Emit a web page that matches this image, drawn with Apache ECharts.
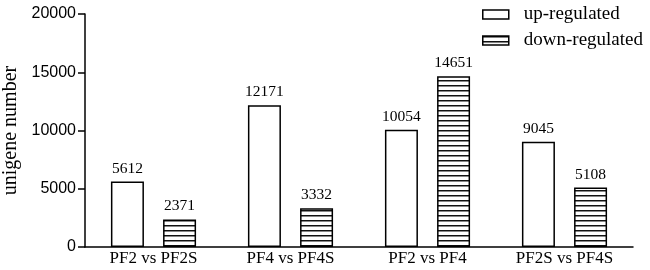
<!DOCTYPE html>
<html>
<head>
<meta charset="utf-8">
<script src="https://cdn.jsdelivr.net/npm/echarts@6/dist/echarts.min.js"></script>
<style>
  html, body { margin: 0; padding: 0; background: #fff; }
  #chart { width: 650px; height: 270px; }
</style>
</head>
<body>
<div id="chart"></div>
<script>
// data
const categories = ['PF2 vs PF2S', 'PF4 vs PF4S', 'PF2 vs PF4', 'PF2S vs PF4S'];
const upRegulated = [5612, 12171, 10054, 9045];
const downRegulated = [2371, 3332, 14651, 5108];

// horizontal stripes for the down-regulated bars
function stripes() {
    const c = document.createElement('canvas');
    c.width = 5;
    c.height = 5;
    const ctx = c.getContext('2d');
    ctx.fillStyle = '#fff';
    ctx.fillRect(0, 0, 5, 5);
    ctx.fillStyle = '#111';
    ctx.fillRect(0, 0, 5, 1);
    ctx.fillStyle = '#888';
    ctx.fillRect(0, 1, 5, 1);
    return c;
}
const stripeFill = {image: stripes(), repeat: 'repeat'};

const serif = '"Liberation Serif", "Times New Roman", serif';
const sans = '"Liberation Sans", Arial, sans-serif';

let chart = echarts.init(document.getElementById('chart'));
chart.setOption({
    animation: false,
    grid: {left: 85, right: 17, top: 14, bottom: 23, outerBoundsMode: 'none'},
    legend: {
        right: 2,
        top: 0,
        orient: 'vertical',
        icon: 'rect',
        itemWidth: 26,
        itemHeight: 9,
        itemGap: 7,
        textStyle: {fontFamily: serif, fontSize: 19, color: '#000', padding: [0, 0, 0, 10]},
        data: [
            {name: 'up-regulated', itemStyle: {color: '#fff', borderColor: '#000', borderWidth: 1.5}},
            {name: 'down-regulated', itemStyle: {color: stripeFill, borderColor: '#000', borderWidth: 1.5}}
        ]
    },
    xAxis: {
        type: 'category',
        data: categories,
        axisLine: {lineStyle: {color: '#000', width: 1.5}},
        axisTick: {alignWithLabel: true, length: 5, lineStyle: {color: '#000', width: 1.5}},
        axisLabel: {fontFamily: serif, fontSize: 17, color: '#000', margin: 3}
    },
    yAxis: {
        type: 'value',
        min: 0,
        max: 20000,
        interval: 5000,
        name: 'unigene number',
        nameLocation: 'middle',
        nameGap: 62,
        nameTextStyle: {fontFamily: serif, fontSize: 20, color: '#000'},
        splitLine: {show: false},
        axisLine: {show: true, lineStyle: {color: '#000', width: 1.5}},
        axisTick: {show: true, length: 7, lineStyle: {color: '#000', width: 1.5}},
        axisLabel: {fontFamily: sans, fontSize: 16, color: '#000', margin: 9, formatter: v => String(v)}
    },
    series: [
        {
            name: 'up-regulated',
            type: 'bar',
            data: upRegulated,
            barWidth: 33,
            barGap: '58%',
            itemStyle: {color: '#fff', borderColor: '#000', borderWidth: 1.5},
            label: {show: true, position: 'top', distance: 5, fontFamily: serif, fontSize: 15.5, color: '#000'}
        },
        {
            name: 'down-regulated',
            type: 'bar',
            data: downRegulated,
            barWidth: 33,
            itemStyle: {color: stripeFill, borderColor: '#000', borderWidth: 1.5},
            label: {show: true, position: 'top', distance: 5, fontFamily: serif, fontSize: 15.5, color: '#000'}
        }
    ]
});
</script>
</body>
</html>
